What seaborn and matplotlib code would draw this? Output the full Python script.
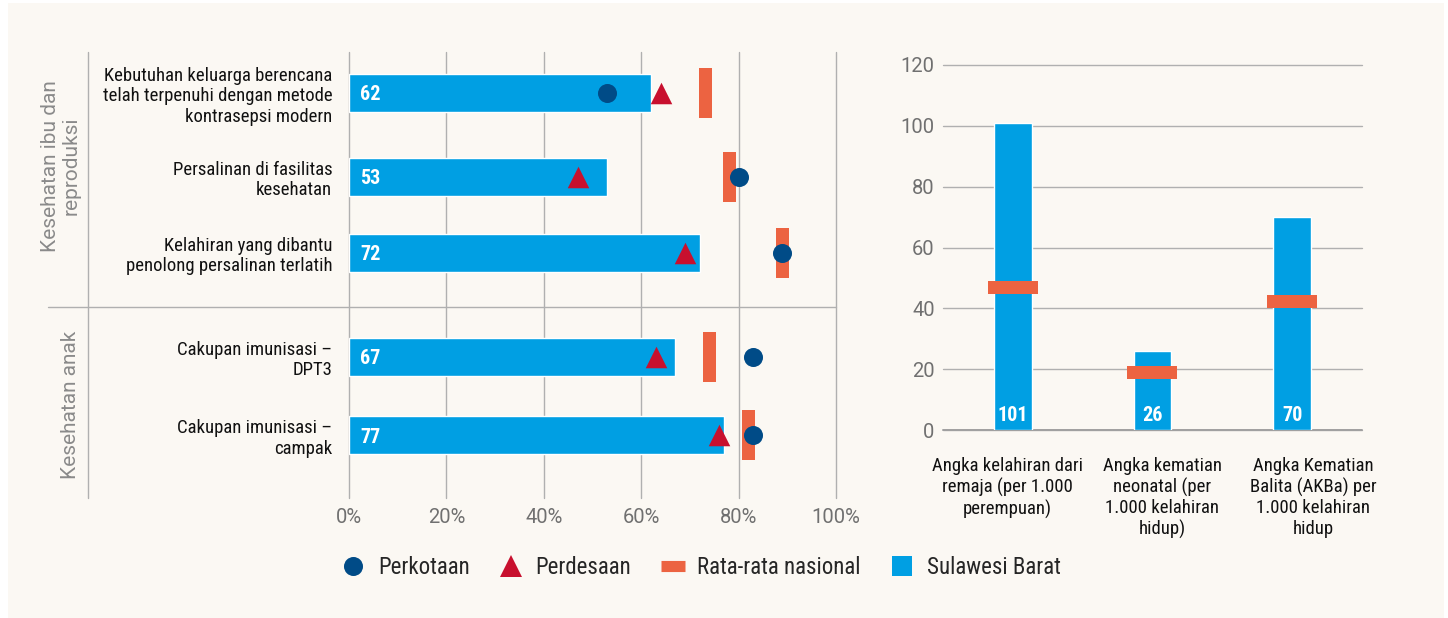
import numpy as np
import matplotlib
matplotlib.use('Agg')
import matplotlib.pyplot as plt
import seaborn as sns
from matplotlib import font_manager
from matplotlib.lines import Line2D
from matplotlib.patches import Rectangle
from matplotlib.path import Path
from matplotlib.transforms import blended_transform_factory

# ---- left panel: coverage indicators (%) ----
indicators = [
    'Kebutuhan keluarga berencana\ntelah terpenuhi dengan metode\nkontrasepsi modern',
    'Persalinan di fasilitas\nkesehatan',
    'Kelahiran yang dibantu\npenolong persalinan terlatih',
    'Cakupan imunisasi –\nDPT3',
    'Cakupan imunisasi –\ncampak',
]
sulbar = [62, 53, 72, 67, 77]
perkotaan = [53, 80, 89, 83, 83]
perdesaan = [64, 47, 69, 63, 76]
nasional = [73, 78, 89, 74, 82]
groups = ['Kesehatan ibu dan\nreproduksi', 'Kesehatan anak']
pct_ticks = [0, 20, 40, 60, 80, 100]

# ---- right panel: rates per 1.000 ----
rate_labels = [
    'Angka kelahiran dari\nremaja (per 1.000\nperempuan)',
    'Angka kematian\nneonatal (per\n1.000 kelahiran\nhidup)',
    'Angka Kematian\nBalita (AKBa) per\n1.000 kelahiran\nhidup',
]
rate_sulbar = [101, 26, 70]
rate_nasional = [47, 19, 42.5]
rate_ticks = [0, 20, 40, 60, 80, 100, 120]

legend_labels = ['Perkotaan', 'Perdesaan', 'Rata-rata nasional', 'Sulawesi Barat']

BLUE = '#009fe3'
DARK = '#004b87'
RED = '#c8102e'
ORANGE = '#ec6341'
GRID = '#b0b0b0'
CREAM = '#fbf8f3'
GREY_TXT = '#707070'

sns.set_style('white')
available = {f.name for f in font_manager.fontManager.ttflist}
COND = next((f for f in ['Roboto Condensed', 'Liberation Sans Narrow', 'Open Sans Condensed']
             if f in available), 'Roboto')
plt.rcParams['font.family'] = [COND, 'DejaVu Sans']
PLAIN = ['Roboto', 'DejaVu Sans']

W, H = 1448, 618
fig = plt.figure(figsize=(W / 100, H / 100), dpi=100, facecolor='white')
fig.patches.append(Rectangle((8 / W, 0), 1436 / W, 1 - 3 / H, transform=fig.transFigure,
                             facecolor=CREAM, edgecolor='none', zorder=-10))


def px_axes(x0, y0, x1, y1):
    return fig.add_axes([x0 / W, 1 - y1 / H, (x1 - x0) / W, (y1 - y0) / H])


def rect_marker(w, h):
    return Path([(-w / 2, -h / 2), (w / 2, -h / 2), (w / 2, h / 2), (-w / 2, h / 2), (0, 0)],
                closed=True)


# ---------------- left chart ----------------
row_y = [0, 1.05, 2.0, 3.3, 4.28]   # layout of rows (80 px per unit)
bar_h = 0.475
ax = px_axes(349, 52, 836, 498)
ax.set_facecolor('none')

sns.barplot(x=sulbar, y=row_y, orient='y', native_scale=True,
            width=bar_h / np.min(np.diff(row_y)), color=BLUE, saturation=1,
            errorbar=None, ax=ax, zorder=2)
sns.scatterplot(x=nasional, y=row_y, marker=rect_marker(13, 50), s=36 ** 2,
                color=ORANGE, linewidth=0, ax=ax, zorder=3)
sns.scatterplot(x=perdesaan, y=row_y, marker='^', s=15.5 ** 2,
                color=RED, linewidth=0, ax=ax, zorder=4)
sns.scatterplot(x=perkotaan, y=row_y, marker='o', s=13.7 ** 2,
                color=DARK, linewidth=0, ax=ax, zorder=5)

for v, y in zip(sulbar, row_y):
    ax.text(2.3, y, str(v), color='white', fontsize=14.5, fontweight='bold',
            ha='left', va='center_baseline', zorder=6)

ax.set_xlim(0, 100)
ax.set_ylim(5.0625, -0.5125)
ax.set_xticks(pct_ticks, [f'{t}%' for t in pct_ticks])
ax.set_yticks(row_y, indicators)
ax.tick_params(axis='x', length=0, pad=7, labelsize=14.5, labelcolor=GREY_TXT)
ax.tick_params(axis='y', length=0, pad=12, labelsize=13.5, labelcolor='#111111')
for lbl in ax.get_xticklabels():
    lbl.set_fontfamily(PLAIN)
for lbl in ax.get_yticklabels():
    lbl.set_linespacing(1.17)
ax.set_xlabel('')
ax.set_ylabel('')
ax.grid(axis='x', color=GRID, lw=1.0)
ax.grid(axis='y', visible=False)
for gl in ax.get_xgridlines():
    gl.set_clip_on(False)
ax.set_axisbelow(True)
sns.despine(ax=ax, left=True, bottom=True)

# group separators and labels
fig.add_artist(Line2D([88 / W, 88 / W], [1 - 52 / H, 1 - 498 / H], color=GRID, lw=1.0))
fig.add_artist(Line2D([48 / W, 836 / W], [1 - 307 / H, 1 - 307 / H], color=GRID, lw=1.0))
for g, (gx, gy) in zip(groups, [(61, 166), (71, 405)]):
    fig.text(gx / W, 1 - gy / H, g, rotation=90, ha='center', va='center',
             fontsize=15, color='#8a8a8a', family=PLAIN,
             linespacing=1.15, multialignment='center')

# ---------------- right chart ----------------
ax2 = px_axes(943, 65, 1362, 430)
ax2.set_facecolor('none')
sns.barplot(x=rate_labels, y=rate_sulbar, width=0.27, color=BLUE, saturation=1,
            errorbar=None, ax=ax2, zorder=2)
xpos = np.arange(len(rate_labels))
sns.scatterplot(x=xpos, y=rate_nasional, marker=rect_marker(50, 13), s=36 ** 2,
                color=ORANGE, linewidth=0, ax=ax2, zorder=3)
for x, v in zip(xpos, rate_sulbar):
    ax2.text(x, 3.0, str(v), color='white', fontsize=14.5, fontweight='bold',
             ha='center', va='baseline', zorder=6)

ax2.set_xlim(-0.5, 2.5)
ax2.set_ylim(0, 120)
ax2.set_yticks(rate_ticks)
ax2.set_xticks(xpos, [''] * len(xpos))
ax2.tick_params(axis='y', length=0, pad=6, labelsize=14.5, labelcolor=GREY_TXT)
ax2.tick_params(axis='x', length=0)
for lbl in ax2.get_yticklabels():
    lbl.set_fontfamily(PLAIN)
# category captions sit slightly off the bar centres in the original
trans = blended_transform_factory(ax2.transData, ax2.transAxes)
for x, lab, dx in zip(xpos, rate_labels, [-0.04, 0.07, 0.15]):
    ax2.text(x + dx, -0.075, lab, transform=trans, ha='center', va='top',
             fontsize=13.5, color='#111111', linespacing=1.17, multialignment='center')
ax2.set_xlabel('')
ax2.set_ylabel('')
ax2.grid(axis='y', color=GRID, lw=1.0)
ax2.grid(axis='x', visible=False)
for gl in ax2.get_ygridlines():
    gl.set_clip_on(False)
ax2.axhline(0, color='#a0a0a0', lw=1.4, zorder=1.5, clip_on=False)
ax2.set_axisbelow(True)
sns.despine(ax=ax2, left=True, bottom=True)

# ---------------- legend ----------------
handles = [
    Line2D([], [], marker='o', ls='', color=DARK, markersize=13.7, mew=0),
    Line2D([], [], marker='^', ls='', color=RED, markersize=15.5, mew=0),
    Line2D([], [], color=ORANGE, lw=8, solid_capstyle='butt'),
    Line2D([], [], marker='s', ls='', color=BLUE, markersize=15, mew=0),
]
fig.legend(handles, legend_labels, loc='center left', bbox_to_anchor=(341 / W, 1 - 568 / H),
           ncol=4, frameon=False, handlelength=1.09, handletextpad=0.52, columnspacing=1.27,
           borderpad=0, borderaxespad=0, prop={'family': [COND, 'DejaVu Sans'], 'size': 16.5})

fig.savefig('out.png', dpi=100, facecolor='white')
